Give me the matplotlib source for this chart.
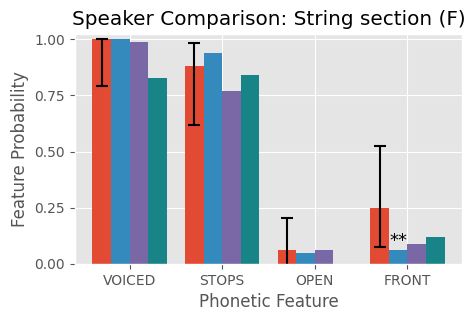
import numpy as np
import matplotlib
matplotlib.use("Agg")
import matplotlib.pyplot as plt

plt.style.use("ggplot")

# data
features = ["VOICED", "STOPS", "OPEN", "FRONT"]
speaker_1 = [1.00, 0.881, 0.062, 0.249]
speaker_2 = [1.00, 0.939, 0.049, 0.062]
speaker_3 = [0.988, 0.770, 0.062, 0.089]
speaker_4 = [0.828, 0.841, 0.0, 0.120]
err_lower = [0.21, 0.264, 0.141, 0.175]
err_upper = [0.0, 0.101, 0.141, 0.276]
star_labels = ["", "", "", "**"]

colors = ["#E24A33", "#348ABD", "#7A68A6", "#188487"]

fig, ax = plt.subplots(figsize=(4.74, 3.21), dpi=100)
fig.subplots_adjust(left=0.158, right=0.975, bottom=0.178, top=0.895)

x = np.arange(len(features))
width = 0.2
series = [speaker_1, speaker_2, speaker_3, speaker_4]
for i, vals in enumerate(series):
    offs = x + (i - 1.5) * width
    if i == 0:
        ax.bar(offs, vals, width, color=colors[i],
               yerr=[err_lower, err_upper], capsize=4.5,
               error_kw=dict(elinewidth=1.5, capthick=1.5, ecolor="black"))
    else:
        ax.bar(offs, vals, width, color=colors[i])

# significance markers above the second series
for xi, val, lab in zip(x, speaker_2, star_labels):
    if lab:
        ax.text(xi - 0.5 * width, val, lab, ha="center", va="bottom",
                fontsize=13, color="black")

ax.set_xticks(x)
ax.set_xticklabels(features)
ax.set_ylim(0, 1.025)
ax.set_yticks([0, 0.25, 0.5, 0.75, 1.0])
ax.set_xlabel("Phonetic Feature")
ax.set_ylabel("Feature Probability")
ax.set_title("Speaker Comparison: String section (F)")

fig.savefig("out.png", dpi=100)
